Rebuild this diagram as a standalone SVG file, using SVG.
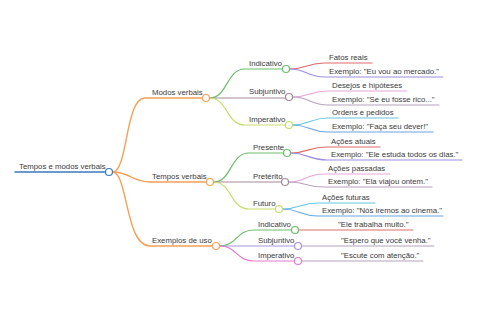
<svg xmlns="http://www.w3.org/2000/svg" width="480" height="320" viewBox="0 0 480 320">
<style>
text{font-family:"Liberation Sans",Arial,sans-serif;font-size:7.8px;fill:#3a3a3a}
path{fill:none;stroke-width:1.2;stroke-linecap:round}
circle{fill:#fff;stroke-width:1.2}
.b{stroke:#3b7bbf}.o{stroke:#f4a155}.g{stroke:#6cbd6a}.m{stroke:#a48a98}.y{stroke:#c8dc6c}
.r{stroke:#e06c6c}.p{stroke:#9e8fdc}.k{stroke:#e8a6d8}.c{stroke:#66c6dc}.u{stroke:#6aa6dc}.q{stroke:#b4a4bc}.v{stroke:#a596e0}.pk{stroke:#e07ccc}
</style>
<rect width="480" height="320" fill="#fff"/>
<g id="connectors">
<path class="b" d="M15 172H105.5" style="stroke-width:1.5"/>
<path class="o" d="M112.5 172C128 172 125 98 145 98H202.5" style="stroke-width:1.4"/>
<path class="o" d="M112.5 172C130 172 132 182 150 182H206.5" style="stroke-width:1.4"/>
<path class="o" d="M112.5 172C128 172 125 246 150 246H212.5" style="stroke-width:1.4"/>
<path class="g" d="M209.5 98C228 98 226 69 245 69H282.5"/>
<path class="m" d="M209.5 98H285.5"/>
<path class="y" d="M209.5 98C228 98 226 125 245 125H285.5"/>
<path class="g" d="M213.5 182C232 182 230 153 249 153H283.5"/>
<path class="m" d="M213.5 182H281.5"/>
<path class="y" d="M213.5 182C232 182 230 209 249 209H275.5"/>
<path class="g" d="M219.5 246C237 246 236 230 254 230H291.5"/>
<path class="v" d="M219.5 246H294.5"/>
<path class="pk" d="M219.5 246C237 246 236 261 254 261H294.5"/>
<path class="r" d="M289.5 69C307 69 307 63 325 63H372"/>
<path class="p" d="M289.5 69C307 69 307 77 325 77H443"/>
<path class="k" d="M292.5 97C310 97 310 91 328 91H407"/>
<path class="q" d="M292.5 97C310 97 310 105 328 105H439"/>
<path class="c" d="M292.5 125C310 125 310 118 328 118H398"/>
<path class="u" d="M292.5 125C310 125 310 132 328 132H433"/>
<path class="r" d="M290.5 153C308 153 308 147 327 147H380"/>
<path class="p" d="M290.5 153C308 153 308 160 327 160H462"/>
<path class="k" d="M288.5 182C306 182 306 174 324 174H390"/>
<path class="q" d="M288.5 182C306 182 306 187 324 187H432"/>
<path class="c" d="M282.5 209C300 209 300 203 318 203H375"/>
<path class="u" d="M282.5 209C300 209 300 216 318 216H443"/>
<path class="r" d="M298.5 230H413"/>
<path class="q" d="M301.5 246H434"/>
<path class="q" d="M301.5 261H423"/>
</g>
<g id="root"><text x="19" y="168.5">Tempos e modos verbais</text><circle class="b" cx="109" cy="172" r="3.5"/></g>
<g id="modos"><text x="152" y="95">Modos verbais</text><circle class="o" cx="206" cy="98" r="3.5"/></g>
<g id="tempos"><text x="152" y="179">Tempos verbais</text><circle class="o" cx="210" cy="182" r="3.5"/></g>
<g id="exemplos"><text x="152" y="243">Exemplos de uso</text><circle class="o" cx="216" cy="246" r="3.5"/></g>
<g id="m-ind"><text x="249" y="66">Indicativo</text><circle class="g" cx="286" cy="69" r="3.5"/></g>
<g id="m-sub"><text x="249" y="94">Subjuntivo</text><circle class="m" cx="289" cy="97" r="3.5"/></g>
<g id="m-imp"><text x="249" y="122">Imperativo</text><circle class="y" cx="289" cy="125" r="3.5"/></g>
<g id="t-pre"><text x="253" y="150">Presente</text><circle class="g" cx="287" cy="153" r="3.5"/></g>
<g id="t-pret"><text x="253" y="179">Pretérito</text><circle class="m" cx="285" cy="182" r="3.5"/></g>
<g id="t-fut"><text x="253" y="206">Futuro</text><circle class="y" cx="279" cy="209" r="3.5"/></g>
<g id="e-ind"><text x="258" y="227">Indicativo</text><circle class="g" cx="295" cy="230" r="3.5"/></g>
<g id="e-sub"><text x="258" y="243">Subjuntivo</text><circle class="v" cx="298" cy="246" r="3.5"/></g>
<g id="e-imp"><text x="258" y="258">Imperativo</text><circle class="pk" cx="298" cy="261" r="3.5"/></g>
<g id="l1"><text x="329" y="60">Fatos reais</text></g>
<g id="l2"><text x="329" y="74">Exemplo: "Eu vou ao mercado."</text></g>
<g id="l3"><text x="332" y="88">Desejos e hipóteses</text></g>
<g id="l4"><text x="332" y="102">Exemplo: "Se eu fosse rico..."</text></g>
<g id="l5"><text x="332" y="115">Ordens e pedidos</text></g>
<g id="l6"><text x="332" y="129">Exemplo: "Faça seu dever!"</text></g>
<g id="l7"><text x="331" y="144">Ações atuais</text></g>
<g id="l8"><text x="331" y="157">Exemplo: "Ele estuda todos os dias."</text></g>
<g id="l9"><text x="328" y="171">Ações passadas</text></g>
<g id="l10"><text x="328" y="184">Exemplo: "Ela viajou ontem."</text></g>
<g id="l11"><text x="322" y="200">Ações futuras</text></g>
<g id="l12"><text x="322" y="213">Exemplo: "Nós iremos ao cinema."</text></g>
<g id="l13"><text x="338" y="227">"Ele trabalha muito."</text></g>
<g id="l14"><text x="341" y="243">"Espero que você venha."</text></g>
<g id="l15"><text x="341" y="258">"Escute com atenção."</text></g>
</svg>
